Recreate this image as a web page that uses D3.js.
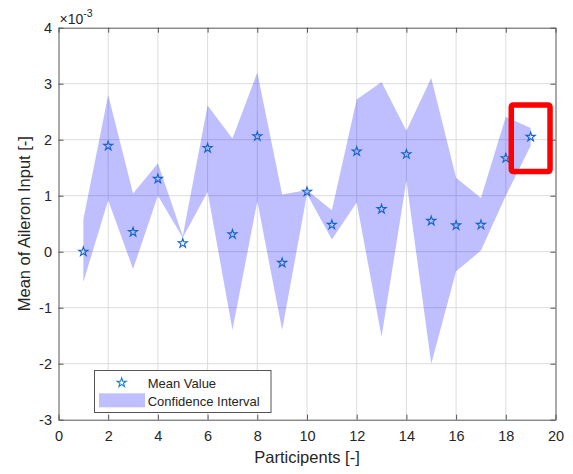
<!DOCTYPE html>
<html>
<head>
<meta charset="utf-8">
<script src="https://cdn.jsdelivr.net/npm/d3@7"></script>
<style>
  html, body { margin: 0; padding: 0; background: #ffffff; }
  svg { display: block; font-family: "Liberation Sans", Arial, Helvetica, sans-serif; }
</style>
</head>
<body>
<svg id="chart" width="573" height="474"></svg>
<script>
// Aileron input per participant, values in units of 1e-3
const participants = [1, 2, 3, 4, 5, 6, 7, 8, 9, 10, 11, 12, 13, 14, 15, 16, 17, 18, 19];
const meanValue = [0.00, 1.89, 0.35, 1.30, 0.15, 1.85, 0.31, 2.06, -0.20, 1.07,
                   0.48, 1.79, 0.76, 1.74, 0.55, 0.47, 0.48, 1.67, 2.05];
const ciUpper   = [0.58, 2.80, 1.04, 1.58, 0.28, 2.61, 2.02, 3.20, 1.02, 1.10,
                   0.74, 2.72, 3.03, 2.16, 3.10, 1.32, 0.96, 2.41, 2.21];
const ciLower   = [-0.54, 0.92, -0.31, 1.00, 0.25, 1.07, -1.40, 0.90, -1.40, 1.03,
                   0.22, 0.88, -1.52, 1.27, -2.00, -0.35, 0.02, 1.00, 1.89];
const xTicks = [0, 2, 4, 6, 8, 10, 12, 14, 16, 18, 20];
const yTicks = [-3, -2, -1, 0, 1, 2, 3, 4];
// highlighted participant box [x0, x1, y0, y1] in data units
const highlightBox = [18.22, 19.78, 1.43, 2.62];

const svg = d3.select("#chart");
const plotLeft = 58.5, plotRight = 555.5, plotTop = 27.7, plotBottom = 419.7;

const x = d3.scaleLinear().domain([0, 20]).range([plotLeft, plotRight]);
const y = d3.scaleLinear().domain([-3, 4]).range([plotBottom, plotTop]);

const axisColor = "#262626";
const tickFont = "14.5px";

// grid
const grid = svg.append("g");
grid.selectAll("line.gx").data(xTicks.slice(1, -1)).join("line")
  .attr("x1", d => x(d)).attr("x2", d => x(d))
  .attr("y1", plotTop).attr("y2", plotBottom)
  .attr("stroke", "#dcdcdc").attr("stroke-width", 1);
grid.selectAll("line.gy").data(yTicks.slice(1, -1)).join("line")
  .attr("x1", plotLeft).attr("x2", plotRight)
  .attr("y1", d => y(d)).attr("y2", d => y(d))
  .attr("stroke", "#dcdcdc").attr("stroke-width", 1);

// confidence band
const rows = participants.map((p, i) => ({ p, lo: ciLower[i], hi: ciUpper[i], m: meanValue[i] }));
const band = d3.area()
  .x(d => x(d.p))
  .y0(d => y(d.lo))
  .y1(d => y(d.hi));
svg.append("path")
  .datum(rows)
  .attr("d", band)
  .attr("fill", "#0000ff")
  .attr("fill-opacity", 0.25)
  .attr("stroke", "none");

// mean markers
const star = d3.symbol().type(d3.symbolStar).size(26);
svg.append("g").selectAll("path").data(rows).join("path")
  .attr("d", star)
  .attr("transform", d => `translate(${x(d.p)},${y(d.m)})`)
  .attr("fill", "none")
  .attr("stroke", "#1565c8")
  .attr("stroke-width", 1.1);

// axes with inward ticks on all four sides
const plainNum = d => String(d);
function styleAxis(g) {
  g.select(".domain").attr("stroke", "#555").attr("stroke-width", 1);
  g.selectAll(".tick line").attr("stroke", "#555");
  g.selectAll(".tick text").attr("fill", axisColor).style("font-size", tickFont);
  g.attr("font-family", null);
}
svg.append("g").attr("transform", `translate(0,${plotBottom})`)
  .call(d3.axisBottom(x).tickValues(xTicks).tickFormat(plainNum)
    .tickSizeInner(-5).tickSizeOuter(0).tickPadding(11.5))
  .call(styleAxis);
svg.append("g").attr("transform", `translate(0,${plotTop})`)
  .call(d3.axisTop(x).tickValues(xTicks).tickSizeInner(-5).tickSizeOuter(0).tickFormat(""))
  .call(styleAxis);
svg.append("g").attr("transform", `translate(${plotLeft},0)`)
  .call(d3.axisLeft(y).tickValues(yTicks).tickFormat(plainNum)
    .tickSizeInner(-5).tickSizeOuter(0).tickPadding(6.5))
  .call(styleAxis);
svg.append("g").attr("transform", `translate(${plotRight},0)`)
  .call(d3.axisRight(y).tickValues(yTicks).tickSizeInner(-5).tickSizeOuter(0).tickFormat(""))
  .call(styleAxis);

// exponent label
const expo = svg.append("text")
  .attr("x", plotLeft + 1).attr("y", 24)
  .attr("fill", axisColor).style("font-size", "14px");
expo.append("tspan").text("\u00d710");
expo.append("tspan").attr("dy", -7).style("font-size", "10.5px").text("-3");

// axis titles
svg.append("text")
  .attr("x", (plotLeft + plotRight) / 2).attr("y", 462.5)
  .attr("text-anchor", "middle")
  .attr("fill", axisColor).style("font-size", "16.5px")
  .text("Participents [-]");
svg.append("text")
  .attr("transform", `translate(29.5,${(plotTop + plotBottom) / 2}) rotate(-90)`)
  .attr("text-anchor", "middle")
  .attr("fill", axisColor).style("font-size", "16.5px")
  .text("Mean of Aileron Input [-]");

// legend
const lg = svg.append("g");
lg.append("rect")
  .attr("x", 94.5).attr("y", 370.5).attr("width", 176.5).attr("height", 42)
  .attr("fill", "#ffffff").attr("stroke", "#555").attr("stroke-width", 1);
lg.append("path")
  .attr("d", star)
  .attr("transform", "translate(121.7,382.7)")
  .attr("fill", "none").attr("stroke", "#1f7fd0").attr("stroke-width", 1.1);
lg.append("rect")
  .attr("x", 99).attr("y", 393.3).attr("width", 46).attr("height", 14)
  .attr("fill", "#0000ff").attr("fill-opacity", 0.25);
lg.append("text").attr("x", 147.7).attr("y", 387.7)
  .attr("fill", axisColor).style("font-size", "13px").text("Mean Value");
lg.append("text").attr("x", 147.7).attr("y", 406.3)
  .attr("fill", axisColor).style("font-size", "13px").text("Confidence Interval");

// highlight box around the last participant
svg.append("rect")
  .attr("x", x(highlightBox[0])).attr("y", y(highlightBox[3]))
  .attr("width", x(highlightBox[1]) - x(highlightBox[0]))
  .attr("height", y(highlightBox[2]) - y(highlightBox[3]))
  .attr("rx", 2)
  .attr("fill", "none").attr("stroke", "#ff0000").attr("stroke-width", 5.5);
</script>
</body>
</html>
